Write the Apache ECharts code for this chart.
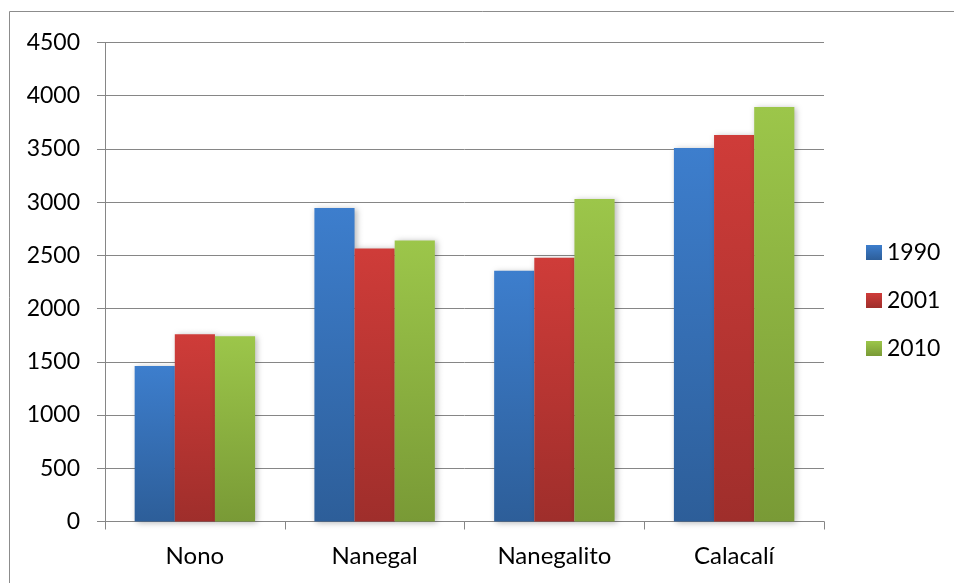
<!DOCTYPE html>
<html>
<head>
<meta charset="utf-8">
<script src="https://cdn.jsdelivr.net/npm/echarts@6/dist/echarts.min.js"></script>
<style>
  html, body { margin: 0; padding: 0; background: #fff; }
  #chart { width: 954px; height: 583px; }
</style>
</head>
<body>
<div id="chart"></div>
<script>
// Parroquias and population per census year
const categories = ['Nono', 'Nanegal', 'Nanegalito', 'Calacalí'];
const years = ['1990', '2001', '2010'];
const pop1990 = [1460, 2945, 2355, 3510];
const pop2001 = [1760, 2565, 2478, 3631];
const pop2010 = [1740, 2640, 3030, 3895];
const seriesValues = [pop1990, pop2001, pop2010];

// Top / bottom gradient stops for each year's bars
const barColors = [
  ['#3d7ecd', '#2d5e99'],
  ['#cf3c39', '#9f2e2b'],
  ['#9cc64a', '#799a36']
];

const FONT = 'Lato';
const axisGray = '#868686';

function gradient(c) {
  return new echarts.graphic.LinearGradient(0, 0, 0, 1, [
    { offset: 0, color: c[0] },
    { offset: 1, color: c[1] }
  ]);
}

const chart = echarts.init(document.getElementById('chart'), null, { renderer: 'canvas' });

chart.setOption({
  animation: false,
  backgroundColor: '#ffffff',
  graphic: [{
    type: 'rect',
    shape: { x: 9.5, y: 11.5, width: 1000, height: 700 },
    style: { fill: 'none', stroke: '#8c8c8c', lineWidth: 1 },
    silent: true
  }],
  grid: { left: 105, right: 130, top: 42.5, bottom: 61.5, containLabel: false },
  legend: {
    orient: 'vertical',
    left: 861,
    top: 236,
    itemWidth: 16,
    itemHeight: 15,
    itemGap: 25,
    icon: 'rect',
    textStyle: { fontFamily: FONT, fontSize: 23, lineHeight: 23, color: '#000' },
    data: years
  },
  xAxis: {
    type: 'category',
    data: categories,
    axisLine: { lineStyle: { color: axisGray, width: 1 } },
    axisTick: { show: true, length: 8, lineStyle: { color: axisGray } },
    axisLabel: { fontFamily: FONT, fontSize: 24, color: '#000', margin: 23 }
  },
  yAxis: {
    type: 'value',
    min: 0,
    max: 4500,
    interval: 500,
    axisLine: { show: true, lineStyle: { color: axisGray, width: 1 } },
    axisTick: { show: true, length: 8, lineStyle: { color: axisGray } },
    axisLabel: {
      fontFamily: FONT, fontSize: 23, color: '#000', margin: 25,
      formatter: (v) => String(v)
    },
    splitLine: { lineStyle: { color: axisGray, width: 1 } }
  },
  series: years.map((y, i) => ({
    name: y,
    type: 'bar',
    data: seriesValues[i],
    barGap: '0%',
    barCategoryGap: '33%',
    itemStyle: {
      color: gradient(barColors[i]),
      shadowBlur: 6,
      shadowColor: 'rgba(0,0,0,0.28)',
      shadowOffsetX: 2,
      shadowOffsetY: 1
    }
  }))
});
</script>
</body>
</html>
